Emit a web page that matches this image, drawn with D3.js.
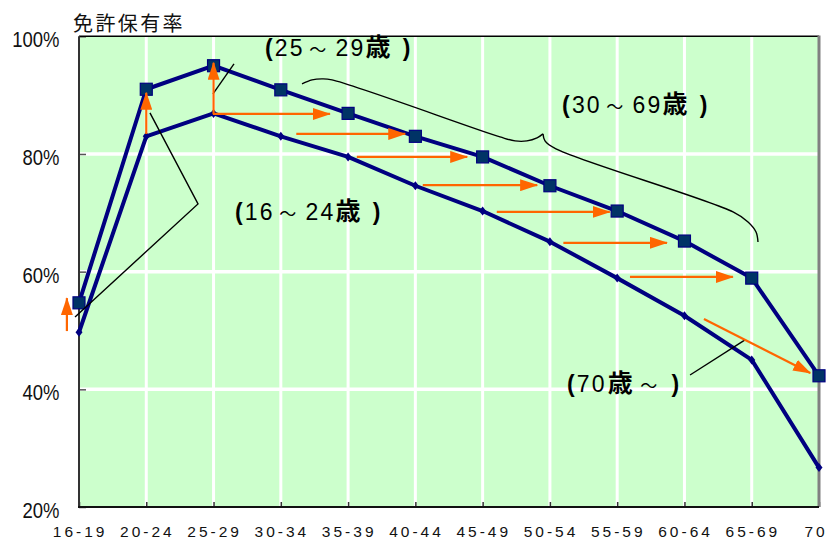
<!DOCTYPE html>
<html>
<head>
<meta charset="utf-8">
<script src="https://cdn.jsdelivr.net/npm/d3@7"></script>
<style>
  html, body { margin: 0; padding: 0; background: #fff; overflow: hidden; }
  svg { display: block; }
</style>
</head>
<body>
<svg id="chart" width="827" height="540"></svg>
<script>
// Age groups along the x axis
const categories = ["16-19", "20-24", "25-29", "30-34", "35-39", "40-44", "45-49", "50-54", "55-59", "60-64", "65-69", "70-"];
// Licence holding rate (%) — later survey (square markers)
const rateLater = [54.7, 91.0, 95.0, 90.9, 86.9, 83.0, 79.5, 74.6, 70.3, 65.2, 58.9, 42.3];
// Licence holding rate (%) — earlier survey (diamond markers)
const rateEarlier = [49.7, 83.0, 86.9, 83.0, 79.5, 74.6, 70.3, 65.1, 58.9, 52.5, 45.0, 26.7];
const yTicks = [20, 40, 60, 80, 100];
const yTitle = "免許保有率";

// Upward arrows: [category index, from %, to %]
const riseArrows = [[-0.18, 49.9, 55.5], [1, 83.4, 90.4], [2, 86.8, 95.5]];
// Cohort shift arrows: [from index, from %, to index, to %]
const shiftArrows = [
  [1.99, 86.8, 3.73, 86.8],
  [3.23, 83.4, 4.85, 83.4],
  [4.13, 79.5, 5.77, 79.5],
  [5.11, 74.7, 6.81, 74.7],
  [6.21, 70.15, 7.89, 70.15],
  [7.20, 64.9, 8.74, 64.9],
  [8.19, 59.1, 9.72, 59.1],
  [9.29, 51.96, 10.87, 42.78]
];
// Leader lines from group labels: points as [index, %]
const leaderLines = [
  [[1.055, 86.98], [1.769, 71.51], [-0.059, 52.30]],
  [[1.992, 90.21], [2.304, 95.31]],
  [[9.083, 42.44], [9.901, 48.39]]
];
// Curly brace spanning the 30-69 group, in two strokes meeting at the cusp
const braceStrokes = [
  [[3.315, 91.91], [3.464, 92.59], [3.612, 92.76], [3.761, 92.59], [6.258, 82.90], [6.481, 82.22], [6.659, 82.22], [6.808, 82.73], [6.897, 83.41]],
  [[6.897, 83.41], [6.927, 82.22], [7.090, 80.86], [9.722, 70.15], [9.945, 68.45], [10.064, 66.75], [10.093, 65.05]]
];
// Group labels: anchor [index, %] and text pieces [text, style, dx]
const groupLabels = [
  { at: [2.765, 96.67], parts: [["(", "b", 0], ["25", "r", 0], ["～", "t", 4.5], ["29", "r", 7], ["歳", "k", 0], [")", "b", 10]] },
  { at: [7.180, 86.98], parts: [["(", "b", 0], ["30", "r", 0], ["～", "t", 4.5], ["69", "r", 7], ["歳", "k", 0], [")", "b", 10]] },
  { at: [2.319, 68.79], parts: [["(", "b", 0], ["16", "r", 0], ["～", "t", 4.5], ["24", "r", 7], ["歳", "k", 0], [")", "b", 10]] },
  { at: [7.254, 39.55], parts: [["(", "b", 0], ["70", "r", 0], ["歳", "k", 1], ["～", "t", 5.3], [")", "b", 12]] }
];

const plotLeft = 79, plotRight = 819, plotTop = 36.3, plotBottom = 507;

const svg = d3.select("#chart");
const x = d3.scalePoint().domain(categories).range([plotLeft, plotRight]).padding(0);
const xi = d3.scaleLinear().domain([0, categories.length - 1]).range([plotLeft, plotRight]);
const y = d3.scaleLinear().domain([20, 100]).range([plotBottom, plotTop]);
const pt = d => [xi(d[0]), y(d[1])];

const orange = "#FF6600";
const navy = "#000080";

// Marker for arrowheads
svg.append("defs").append("marker")
  .attr("id", "head")
  .attr("markerUnits", "userSpaceOnUse")
  .attr("viewBox", "0 -6 18 12")
  .attr("refX", 17).attr("refY", 0)
  .attr("markerWidth", 18).attr("markerHeight", 12)
  .attr("orient", "auto")
  .append("path").attr("d", "M0,-6L18,0L0,6Z").attr("fill", orange);

// Plot background
svg.append("rect")
  .attr("x", plotLeft).attr("y", plotTop)
  .attr("width", plotRight - plotLeft).attr("height", plotBottom - plotTop)
  .attr("fill", "#CCFFCC");

// White gridlines
svg.append("g").selectAll("line").data(categories.slice(1, -1)).join("line")
  .attr("x1", d => x(d)).attr("x2", d => x(d))
  .attr("y1", plotTop).attr("y2", plotBottom)
  .attr("stroke", "#fff").attr("stroke-width", 3);
svg.append("g").selectAll("line").data(yTicks.slice(1, -1)).join("line")
  .attr("x1", plotLeft).attr("x2", plotRight)
  .attr("y1", d => y(d)).attr("y2", d => y(d))
  .attr("stroke", "#fff").attr("stroke-width", 3.5);

// Y axis
const yAxis = svg.append("g")
  .attr("transform", `translate(${plotLeft},0)`)
  .call(d3.axisLeft(y).tickValues(yTicks).tickSize(-7).tickFormat(d => d + "%"));
yAxis.select(".domain").remove();
yAxis.selectAll(".tick line").attr("stroke", "#555").attr("stroke-width", 1.5);
yAxis.selectAll(".tick text")
  .attr("x", 0).attr("dy", "0.47em")
  .attr("transform", "translate(-19.5,0) scale(0.84,1)")
  .attr("text-anchor", "end")
  .attr("fill", "#111")
  .style("font-family", "Arial, 'Liberation Sans', sans-serif")
  .style("font-size", "22px");

// X axis
const xAxis = svg.append("g")
  .attr("transform", `translate(0,${plotBottom})`)
  .call(d3.axisBottom(x).tickSize(-5).tickPadding(18.6));
xAxis.select(".domain").remove();
xAxis.selectAll(".tick line").attr("stroke", "#333").attr("stroke-width", 1.5);
xAxis.selectAll(".tick text")
  .attr("dx", 0.6)
  .attr("fill", "#111")
  .style("font-family", "Arial, 'Liberation Sans', sans-serif")
  .style("font-size", "15.5px")
  .style("letter-spacing", "3px");

// Plot frame
svg.append("line").attr("x1", plotLeft).attr("x2", plotRight).attr("y1", plotTop).attr("y2", plotTop)
  .attr("stroke", "#000").attr("stroke-width", 1.5);
svg.append("line").attr("x1", plotRight).attr("x2", plotRight).attr("y1", plotTop - 0.7).attr("y2", plotBottom)
  .attr("stroke", "#808080").attr("stroke-width", 3);
svg.append("line").attr("x1", plotLeft).attr("x2", plotLeft).attr("y1", plotTop).attr("y2", plotBottom + 1)
  .attr("stroke", "#333").attr("stroke-width", 2);
svg.append("line").attr("x1", plotLeft - 1).attr("x2", plotRight).attr("y1", plotBottom).attr("y2", plotBottom)
  .attr("stroke", "#111").attr("stroke-width", 2);

// Y axis title
svg.append("text")
  .attr("x", 73).attr("y", 31)
  .style("font-family", "'Noto Sans CJK JP', sans-serif")
  .style("font-size", "20px")
  .style("letter-spacing", "2.4px")
  .attr("fill", "#111")
  .text(yTitle);

// Series lines
const line = d3.line().x((d, i) => x(categories[i])).y(d => y(d));
svg.append("path").datum(rateEarlier).attr("d", line)
  .attr("fill", "none").attr("stroke", navy).attr("stroke-width", 4).attr("stroke-linejoin", "round");
svg.append("path").datum(rateLater).attr("d", line)
  .attr("fill", "none").attr("stroke", navy).attr("stroke-width", 4).attr("stroke-linejoin", "round");

// Diamond markers (earlier survey)
svg.append("g").selectAll("path").data(rateEarlier).join("path")
  .attr("transform", (d, i) => `translate(${x(categories[i])},${y(d)})`)
  .attr("d", "M0,-4.5L3.5,0L0,4.5L-3.5,0Z")
  .attr("fill", navy);

// Square markers (later survey)
svg.append("g").selectAll("rect").data(rateLater).join("rect")
  .attr("x", (d, i) => x(categories[i]) - 6)
  .attr("y", d => y(d) - 6)
  .attr("width", 12).attr("height", 12)
  .attr("fill", "#003366").attr("stroke", navy).attr("stroke-width", 1.2);

// Brace and leader lines
const curve = d3.line().x(d => xi(d[0])).y(d => y(d[1])).curve(d3.curveCatmullRom.alpha(0.5));
svg.append("g").selectAll("path").data(braceStrokes).join("path")
  .attr("d", curve).attr("fill", "none").attr("stroke", "#000").attr("stroke-width", 1.4);
const poly = d3.line().x(d => xi(d[0])).y(d => y(d[1]));
svg.append("g").selectAll("path").data(leaderLines).join("path")
  .attr("d", poly).attr("fill", "none").attr("stroke", "#000").attr("stroke-width", 1.4);

// Orange arrows
svg.append("g").selectAll("line").data(riseArrows).join("line")
  .attr("x1", d => xi(d[0])).attr("x2", d => xi(d[0]))
  .attr("y1", d => y(d[1])).attr("y2", d => y(d[2]))
  .attr("stroke", orange).attr("stroke-width", 2.2)
  .attr("marker-end", "url(#head)");
svg.append("g").selectAll("line").data(shiftArrows).join("line")
  .attr("x1", d => xi(d[0])).attr("y1", d => y(d[1]))
  .attr("x2", d => xi(d[2])).attr("y2", d => y(d[3]))
  .attr("stroke", orange).attr("stroke-width", 2.2)
  .attr("marker-end", "url(#head)");

// Group labels
const partStyle = {
  b: { family: "Arial, 'Liberation Sans', sans-serif", size: 23, weight: "bold" },
  r: { family: "Arial, 'Liberation Sans', sans-serif", size: 23, weight: "normal" },
  t: { family: "'Noto Sans CJK JP', sans-serif", size: 17, weight: "normal" },
  k: { family: "'Noto Sans CJK JP', sans-serif", size: 25, weight: "bold" }
};
groupLabels.forEach(lab => {
  const [lx, ly] = pt(lab.at);
  const t = svg.append("text").attr("x", lx).attr("y", ly)
    .attr("fill", "#000").style("letter-spacing", "2.2px");
  lab.parts.forEach(([txt, s, dx]) => {
    const st = partStyle[s];
    t.append("tspan").attr("dx", dx)
      .style("font-family", st.family)
      .style("font-size", st.size + "px")
      .style("font-weight", st.weight)
      .text(txt);
  });
});
</script>
</body>
</html>
